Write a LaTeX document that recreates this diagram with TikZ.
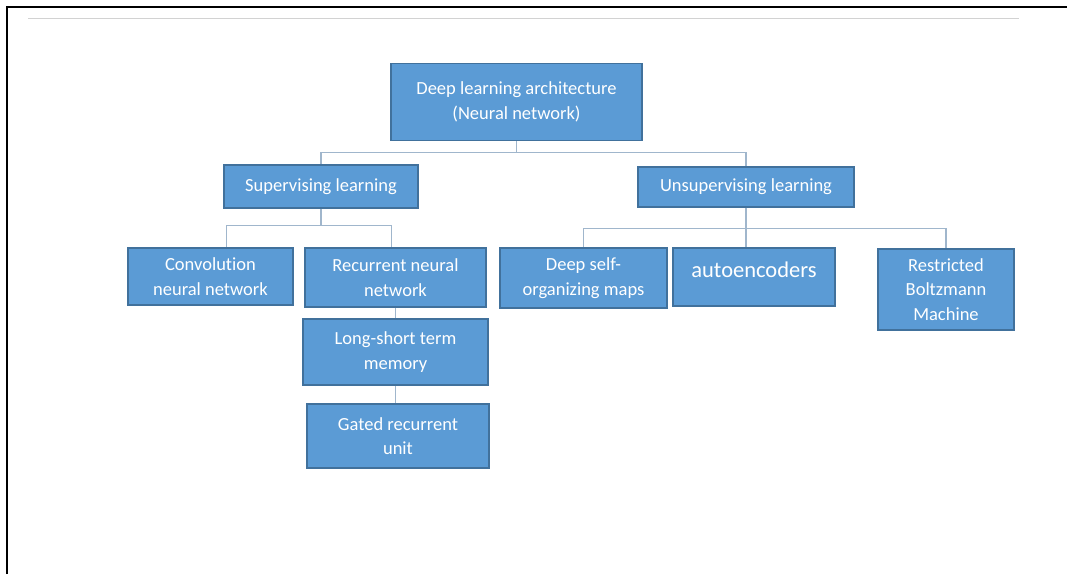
\documentclass[tikz,border=0pt]{standalone}
\usepackage{fontspec}
\setmainfont{Carlito}[Ligatures=NoCommon]
\definecolor{boxblue}{RGB}{91,155,213}
\definecolor{boxedge}{RGB}{65,113,156}
\definecolor{linkgrey}{RGB}{160,182,204}

\begin{document}
\begin{tikzpicture}[x=1pt, y=-1pt,
    box/.style={draw=boxedge, line width=1.5pt, fill=boxblue, text=white, align=center, inner sep=2pt, font=\fontsize{18.5}{24.5}\selectfont},
    link/.style={draw=linkgrey, line width=1.2pt}]

    \useasboundingbox (0, 0) rectangle (1067, 574);
    \draw [line width=2.5pt] (7, 574) -- (7, 7) -- (1067, 7);
    \draw [gray!35, line width=1pt] (28, 18) -- (1019, 18);

    \node [box, minimum width=251pt, minimum height=77pt] (a) at (516.5, 102) {Deep learning architecture\\(Neural network)};
    \node [box, minimum width=194pt, minimum height=43pt] (b) at (321, 186.5) {Supervising learning};
    \node [box, minimum width=216pt, minimum height=40pt] (c) at (746, 187) {Unsupervising learning};
    \node [box, minimum width=165pt, minimum height=57pt] (d) at (210.5, 276.5) {Convolution\\neural network};
    \node [box, minimum width=181pt, minimum height=59pt] (e) at (395.5, 277.5) {Recurrent neural\\network};
    \node [box, minimum width=185pt, minimum height=66pt] (f) at (395.5, 352) {Long-short term\\memory};
    \node [box, minimum width=182pt, minimum height=64pt] (g) at (398, 436) {Gated recurrent\\unit};
    \node [box, minimum width=167pt, minimum height=60pt] (h) at (583.5, 278) {Deep self-\\organizing maps};
    \node [box, minimum width=162pt, minimum height=58pt, text depth=14pt, font=\fontsize{22.5}{27}\selectfont] (i) at (754, 277) {autoencoders};
    \node [box, minimum width=136pt, minimum height=81pt] (j) at (946, 289.5) {Restricted\\Boltzmann\\Machine};

    \draw [link] (a.south) -- ++(0, 11) -| (b.north);
    \draw [link] (a.south) -- ++(0, 11) -| (c.north);
    \draw [link] (b.south) -- ++(0, 17) -| ([xshift=16pt]d.north);
    \draw [link] (b.south) -- ++(0, 17) -| ([xshift=-4pt]e.north);
    \draw [link] (e.south) -- (e.south |- f.north);
    \draw [link] (f.south) -- (f.south |- g.north);
    \draw [link] (c.south) -- ++(0, 21) -| (h.north);
    \draw [link] (c.south) -- ++(0, 21) -| (j.north);
    \draw [link] (c.south) -- (c.south |- i.north);

\end{tikzpicture}
\end{document}
